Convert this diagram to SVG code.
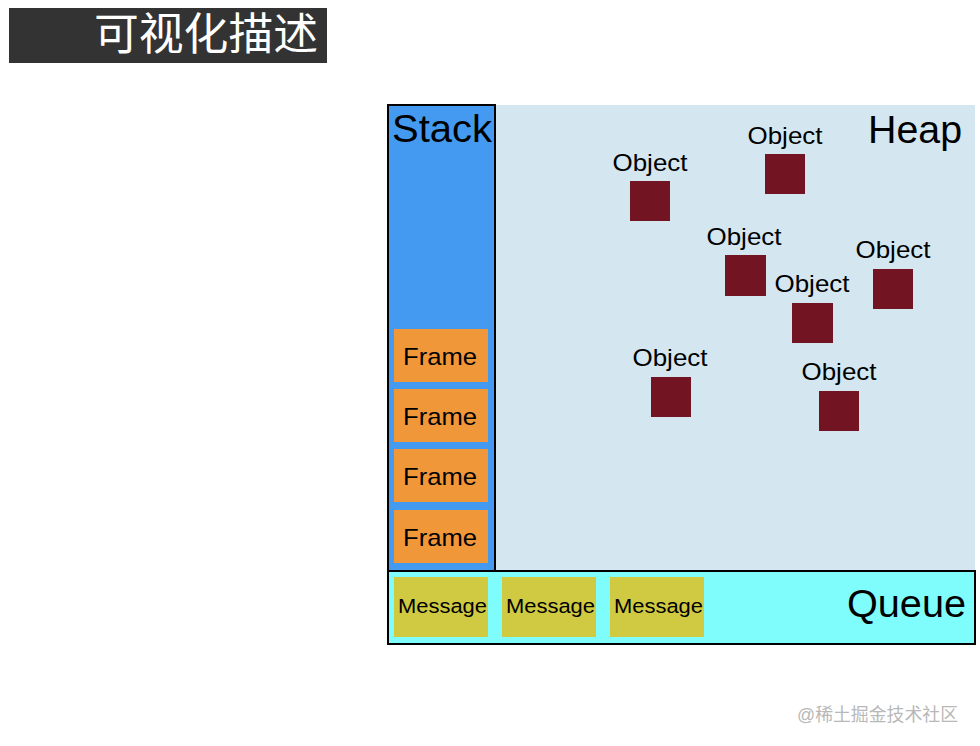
<svg xmlns="http://www.w3.org/2000/svg" width="980" height="746" viewBox="0 0 980 746">
<style>
.lbl{font-family:"Liberation Sans",Arial,sans-serif;fill:#000}
.obj{fill:#721421}
.frame{fill:#f0973a}
.msg{fill:#cfca42}
.otxt{font-size:24px;text-anchor:middle}
.ftxt{font-size:24px;text-anchor:middle}
.mtxt{font-size:20.5px;text-anchor:middle}
</style>
<rect width="980" height="746" fill="#ffffff"/>
<g id="title">
<rect x="9" y="8" width="318" height="55" fill="#333333"/>
<text x="94" y="50" font-family="'Liberation Serif','Noto Sans CJK SC',serif" font-size="44" fill="#ffffff" textLength="224" lengthAdjust="spacingAndGlyphs">可视化描述</text>
</g>
<g id="heap">
<rect x="495" y="105" width="480" height="466" fill="#d4e6f0"/>
<text class="lbl" x="962" y="143" font-size="38" text-anchor="end" textLength="94" lengthAdjust="spacingAndGlyphs">Heap</text>
</g>
<g id="stack">
<rect x="388" y="105" width="107" height="466" fill="#439af0" stroke="#000" stroke-width="2"/>
<text class="lbl" x="442" y="142" font-size="38" text-anchor="middle" textLength="100" lengthAdjust="spacingAndGlyphs">Stack</text>
</g>
<g id="frame1"><rect class="frame" x="394" y="329" width="94" height="53"/><text class="lbl ftxt" x="440" y="365" textLength="74" lengthAdjust="spacingAndGlyphs">Frame</text></g>
<g id="frame2"><rect class="frame" x="394" y="389" width="94" height="53"/><text class="lbl ftxt" x="440" y="425" textLength="74" lengthAdjust="spacingAndGlyphs">Frame</text></g>
<g id="frame3"><rect class="frame" x="394" y="449" width="94" height="53"/><text class="lbl ftxt" x="440" y="485" textLength="74" lengthAdjust="spacingAndGlyphs">Frame</text></g>
<g id="frame4"><rect class="frame" x="394" y="510" width="94" height="53"/><text class="lbl ftxt" x="440" y="546" textLength="74" lengthAdjust="spacingAndGlyphs">Frame</text></g>
<g id="queue">
<rect x="388" y="571" width="587" height="73" fill="#7ffdfd" stroke="#000" stroke-width="2"/>
<text class="lbl" x="966" y="617" font-size="39" text-anchor="end" textLength="119" lengthAdjust="spacingAndGlyphs">Queue</text>
</g>
<g id="msg1"><rect class="msg" x="394" y="577" width="94" height="60"/><text class="lbl mtxt" x="442.5" y="613" textLength="89" lengthAdjust="spacingAndGlyphs">Message</text></g>
<g id="msg2"><rect class="msg" x="502" y="577" width="94" height="60"/><text class="lbl mtxt" x="550.5" y="613" textLength="89" lengthAdjust="spacingAndGlyphs">Message</text></g>
<g id="msg3"><rect class="msg" x="610" y="577" width="94" height="60"/><text class="lbl mtxt" x="658.5" y="613" textLength="89" lengthAdjust="spacingAndGlyphs">Message</text></g>
<g id="obj1"><text class="lbl otxt" x="650" y="171" textLength="75" lengthAdjust="spacingAndGlyphs">Object</text><rect class="obj" x="630" y="181" width="40" height="40"/></g>
<g id="obj2"><text class="lbl otxt" x="785" y="144" textLength="75" lengthAdjust="spacingAndGlyphs">Object</text><rect class="obj" x="765" y="154" width="40" height="40"/></g>
<g id="obj3"><text class="lbl otxt" x="744" y="245" textLength="75" lengthAdjust="spacingAndGlyphs">Object</text><rect class="obj" x="725" y="255" width="41" height="41"/></g>
<g id="obj4"><text class="lbl otxt" x="893" y="258" textLength="75" lengthAdjust="spacingAndGlyphs">Object</text><rect class="obj" x="873" y="269" width="40" height="40"/></g>
<g id="obj5"><text class="lbl otxt" x="812" y="292" textLength="75" lengthAdjust="spacingAndGlyphs">Object</text><rect class="obj" x="792" y="303" width="41" height="40"/></g>
<g id="obj6"><text class="lbl otxt" x="670" y="366" textLength="75" lengthAdjust="spacingAndGlyphs">Object</text><rect class="obj" x="651" y="377" width="40" height="40"/></g>
<g id="obj7"><text class="lbl otxt" x="839" y="380" textLength="75" lengthAdjust="spacingAndGlyphs">Object</text><rect class="obj" x="819" y="391" width="40" height="40"/></g>
<g id="connectors"></g>
<text x="797" y="721" font-family="'Liberation Sans','Noto Sans CJK SC',sans-serif" font-size="18" fill="#b8b8b8" textLength="161" lengthAdjust="spacingAndGlyphs">@稀土掘金技术社区</text>
</svg>
